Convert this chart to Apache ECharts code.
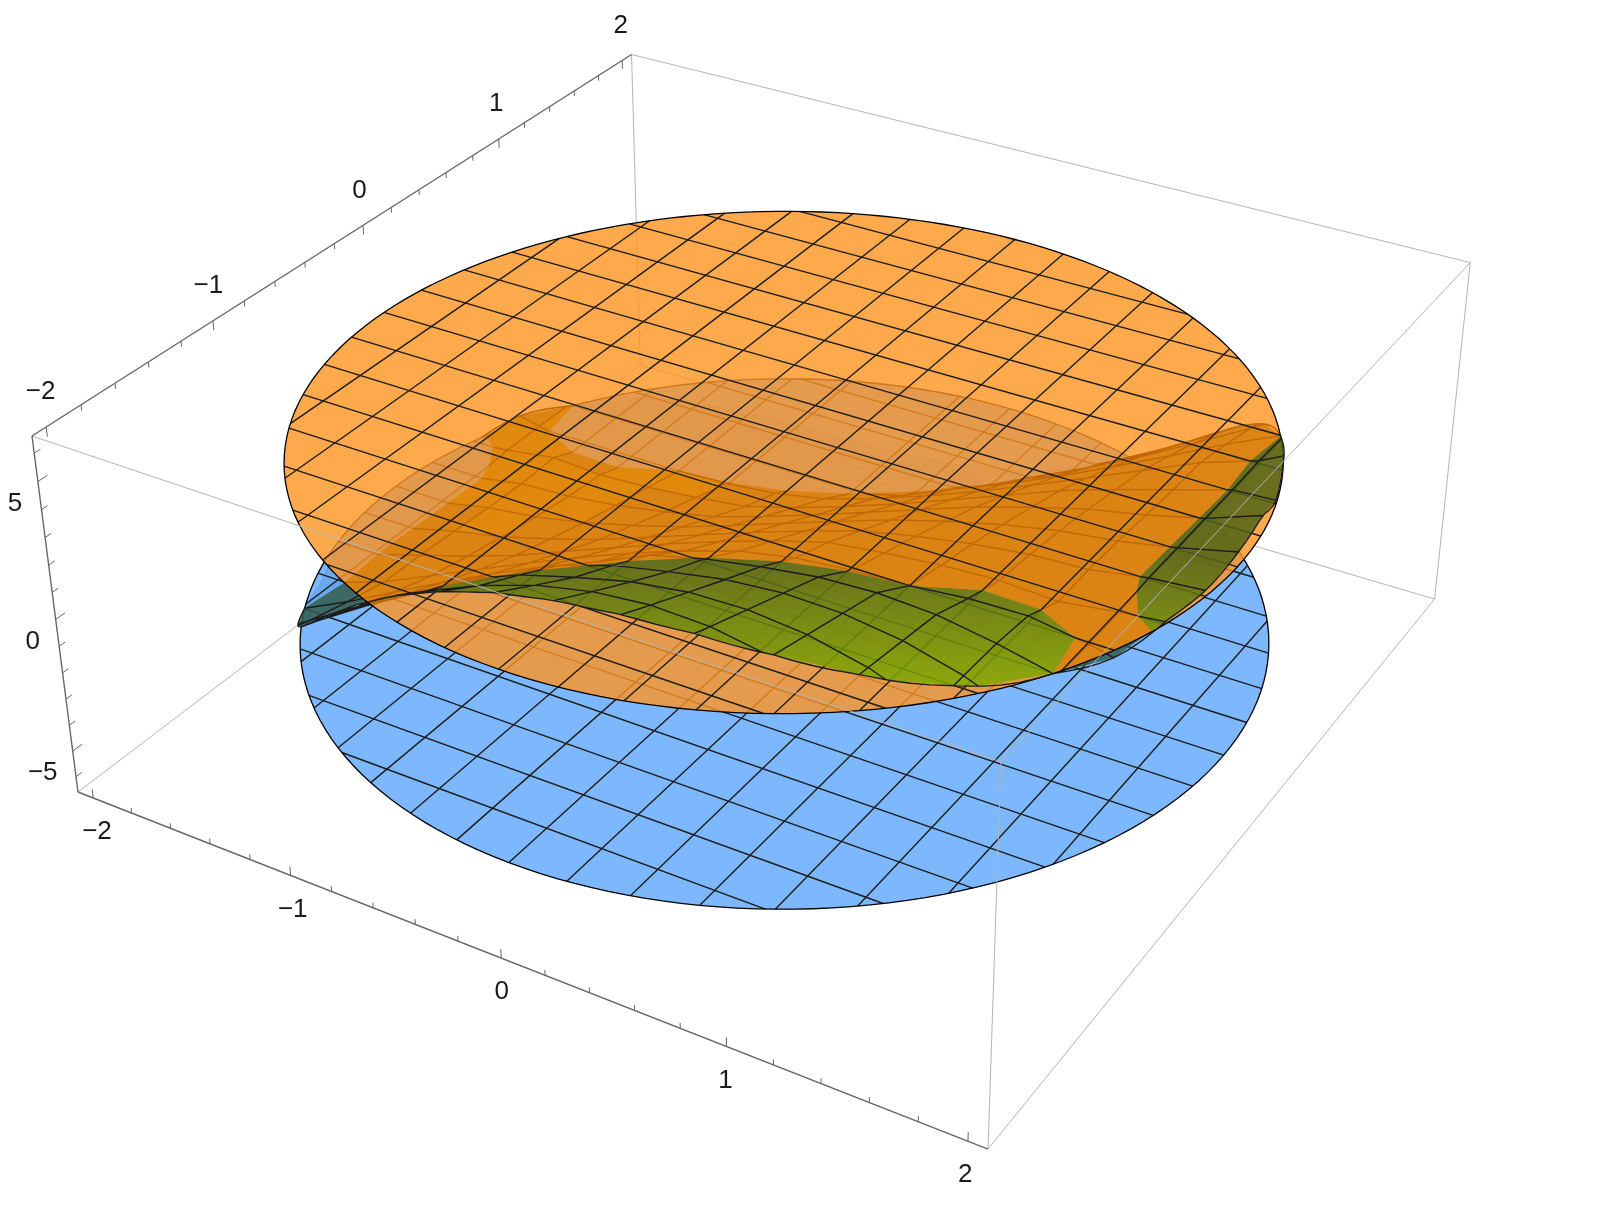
<!DOCTYPE html>
<html>
<head>
<meta charset="utf-8">
<title>Surface between two level discs</title>
<style>
  html, body { margin: 0; background: #fff; }
  #chart { width: 1600px; height: 1220px; }
</style>
<script src="https://cdn.jsdelivr.net/npm/echarts@6/dist/echarts.min.js"></script>
</head>
<body>
<div id="chart"></div>
<script>
const xTicks = [-2, -1, 0, 1, 2];
const yTicks = [-2, -1, 0, 1, 2];
const zTicks = [-5, 0, 5];
const planeLow = -3.45;
const planeHigh = 3.45;
const discRadius = 2;
const gridStart = -2;
const gridStep = 0.25;
// rows run along y from -2 to 2, columns along x from -2 to 2
const surfaceZ = [
  [-4.16,-2.36,-.67,.89,2.30,3.54,4.60,5.44,6.06,6.43,6.53,6.35,5.86,5.05,3.89,2.37,.47],
  [-4.41,-2.79,-1.25,.19,1.51,2.69,3.72,4.56,5.22,5.65,5.85,5.79,5.46,4.84,3.90,2.62,1.00],
  [-4.56,-3.13,-1.76,-.44,.78,1.90,3.05,3.85,4.41,4.90,5.19,5.25,5.07,4.63,3.90,2.87,1.52],
  [-4.64,-3.41,-2.19,-1.02,.11,1.15,2.10,3.10,3.75,4.17,4.54,4.72,4.68,4.41,3.89,3.10,2.01],
  [-4.64,-3.50,-2.57,-1.53,-.52,.45,1.35,2.16,3.05,3.55,3.91,4.19,4.29,4.19,3.86,3.42,2.48],
  [-4.57,-3.55,-2.88,-1.99,-1.10,-.22,.63,1.42,2.14,2.76,3.15,3.35,3.45,3.65,3.70,3.38,2.92],
  [-3.60,-3.50,-2.90,-2.30,-1.64,-.85,-.07,.70,1.42,2.08,2.65,2.90,3.10,3.20,3.10,3.38,3.60],
  [-4.23,-3.50,-3.00,-2.60,-2.05,-1.45,-.73,-.01,.71,1.39,2.02,2.45,2.80,3.05,3.15,3.50,3.67],
  [-3.98,-3.50,-3.10,-2.85,-2.45,-1.95,-1.38,-.70,0,.70,1.38,1.95,2.45,2.85,3.10,3.50,3.98],
  [-3.67,-3.50,-3.15,-3.05,-2.80,-2.45,-2.02,-1.39,-.71,.01,.73,1.45,2.05,2.60,3.00,3.50,4.23],
  [-3.60,-3.38,-3.10,-3.20,-3.10,-2.90,-2.65,-2.08,-1.42,-.70,.07,.85,1.64,2.30,2.90,3.50,3.60],
  [-2.92,-3.38,-3.70,-3.65,-3.45,-3.35,-3.15,-2.76,-2.14,-1.42,-.63,.22,1.10,1.99,2.88,3.55,4.57],
  [-2.48,-3.42,-3.86,-4.19,-4.29,-4.19,-3.91,-3.55,-3.05,-2.16,-1.35,-.45,.52,1.53,2.57,3.50,4.64],
  [-2.01,-3.10,-3.89,-4.41,-4.68,-4.72,-4.54,-4.17,-3.75,-3.10,-2.10,-1.15,-.11,1.02,2.19,3.41,4.64],
  [-1.52,-2.87,-3.90,-4.63,-5.07,-5.25,-5.19,-4.90,-4.41,-3.85,-3.05,-1.90,-.78,.44,1.76,3.13,4.56],
  [-1.00,-2.62,-3.90,-4.84,-5.46,-5.79,-5.85,-5.65,-5.22,-4.56,-3.72,-2.69,-1.51,-.19,1.25,2.79,4.41],
  [-.47,-2.37,-3.89,-5.05,-5.86,-6.35,-6.53,-6.43,-6.06,-5.44,-4.60,-3.54,-2.30,-.89,.67,2.36,4.16]
];

// box half sizes and the camera, fitted to the box corners
const boxXY = 2.08;
const boxZ = 6.6;
const camera = [
  [78, 781.2, 702.5, -47.9],
  [792, 207.2, -347.1, -381.7],
  [1, -0.1304, 0.219, -0.059]
];

function project(p) {
  const u = (p[0] + boxXY) / (2 * boxXY);
  const v = (p[1] + boxXY) / (2 * boxXY);
  const w = (p[2] + boxZ) / (2 * boxZ);
  const r = camera.map(c => c[0] + c[1] * u + c[2] * v + c[3] * w);
  return [r[0] / r[2], r[1] / r[2]];
}

function lerp(a, b, t) {
  return [a[0] + (b[0] - a[0]) * t, a[1] + (b[1] - a[1]) * t, a[2] + (b[2] - a[2]) * t];
}

function crossing(a, b, f) {
  let lo = 0, hi = 1;
  const inA = f(a) >= 0;
  for (let i = 0; i < 14; i++) {
    const t = (lo + hi) / 2;
    if ((f(lerp(a, b, t)) >= 0) === inA) lo = t; else hi = t;
  }
  return lerp(a, b, (lo + hi) / 2);
}

function clipPolygon(pts, f) {
  const out = [];
  pts.forEach((a, i) => {
    const b = pts[(i + 1) % pts.length];
    const ia = f(a) >= 0, ib = f(b) >= 0;
    if (ia) out.push(a);
    if (ia !== ib) out.push(crossing(a, b, f));
  });
  return out;
}

function clipSegment(seg, f) {
  const ia = f(seg[0]) >= 0, ib = f(seg[1]) >= 0;
  if (ia && ib) return seg;
  if (!ia && !ib) return null;
  const c = crossing(seg[0], seg[1], f);
  return ia ? [seg[0], c] : [c, seg[1]];
}

const inDisc = p => discRadius - Math.hypot(p[0], p[1]);
const layerClips = [
  [p => planeLow - p[2]],
  [p => p[2] - planeLow, p => planeHigh - p[2]],
  [p => p[2] - planeHigh]
];

function gridPoint(row, col) {
  return [gridStart + col * gridStep, gridStart + row * gridStep, surfaceZ[row][col]];
}

function surfaceAt(x, y) {
  const c = Math.min(15, Math.max(0, Math.floor((x - gridStart) / gridStep)));
  const r = Math.min(15, Math.max(0, Math.floor((y - gridStart) / gridStep)));
  const s = (x - gridStart) / gridStep - c, t = (y - gridStart) / gridStep - r;
  return (1 - t) * ((1 - s) * surfaceZ[r][c] + s * surfaceZ[r][c + 1]) +
    t * ((1 - s) * surfaceZ[r + 1][c] + s * surfaceZ[r + 1][c + 1]);
}

// surface cells, split by disc edge and by the two planes
const facets = [[], [], []];
const flatFacets = [];
const meshPieces = [[], [], []];

function addToLayers(seg) {
  layerClips.forEach((clips, layer) => {
    let s = seg;
    clips.forEach(f => { if (s) s = clipSegment(s, f); });
    if (s) meshPieces[layer].push(s);
  });
}

for (let r = 0; r < 16; r++) {
  for (let c = 0; c < 16; c++) {
    const cell = clipPolygon([gridPoint(r, c), gridPoint(r, c + 1), gridPoint(r + 1, c + 1), gridPoint(r + 1, c)], inDisc);
    if (cell.length < 3) continue;
    const fx = (surfaceZ[r][c + 1] + surfaceZ[r + 1][c + 1] - surfaceZ[r][c] - surfaceZ[r + 1][c]) / (2 * gridStep);
    const fy = (surfaceZ[r + 1][c] + surfaceZ[r + 1][c + 1] - surfaceZ[r][c] - surfaceZ[r][c + 1]) / (2 * gridStep);
    const nz = 1 / Math.hypot(fx, fy, 1);
    layerClips.forEach((clips, layer) => {
      let poly = cell;
      clips.forEach(f => { if (poly.length) poly = clipPolygon(poly, f); });
      if (poly.length < 3) return;
      facets[layer].push(poly);
      // flatter cells at the back left catch more light under the top disc
      if (layer === 1 && nz > 0.5 && c < 8) flatFacets.push(poly);
    });
  }
}
for (let i = 1; i < 16; i++) {
  for (let j = 0; j < 16; j++) {
    [[gridPoint(i, j), gridPoint(i, j + 1)], [gridPoint(j, i), gridPoint(j + 1, i)]].forEach(seg => {
      const inside = clipSegment(seg, inDisc);
      if (inside) addToLayers(inside);
    });
  }
}
for (let a = 0; a < 360; a += 2) {
  const p = [discRadius * Math.cos(a * Math.PI / 180), discRadius * Math.sin(a * Math.PI / 180)];
  const q = [discRadius * Math.cos((a + 2) * Math.PI / 180), discRadius * Math.sin((a + 2) * Math.PI / 180)];
  addToLayers([[p[0], p[1], surfaceAt(p[0], p[1])], [q[0], q[1], surfaceAt(q[0], q[1])]]);
}

function pathOf(api, list, close) {
  let d = '';
  list.forEach(pts => {
    pts.forEach((p, i) => {
      const c = api.coord(project(p));
      d += (i ? 'L' : 'M') + c[0].toFixed(2) + ' ' + c[1].toFixed(2) + ' ';
    });
    if (close) d += 'Z ';
  });
  return d;
}

function fillPath(api, list, color) {
  return { type: 'path', silent: true, shape: { pathData: pathOf(api, list, true) }, style: { fill: color, stroke: null } };
}

function linePath(api, list, color, width) {
  return { type: 'path', silent: true, shape: { pathData: pathOf(api, list, false) }, style: { fill: null, stroke: color, lineWidth: width } };
}

function discRim(z) {
  const rim = [];
  for (let a = 0; a < 360; a += 2) {
    rim.push([discRadius * Math.cos(a * Math.PI / 180), discRadius * Math.sin(a * Math.PI / 180), z]);
  }
  return rim;
}

function discLines(api, z) {
  const rim = discRim(z);
  const chords = [];
  for (let i = -7; i <= 7; i++) {
    const g = i * gridStep;
    const h = Math.sqrt(discRadius * discRadius - g * g);
    chords.push([[g, -h, z], [g, h, z]]);
    chords.push([[-h, g, z], [h, g, z]]);
  }
  return [
    linePath(api, chords, '#1c1c1c', 1.4),
    linePath(api, [rim.concat([rim[0]])], '#000', 1.3)
  ];
}

function surfaceUnder(api, layer) {
  return [
    fillPath(api, facets[layer], 'rgba(48,91,73,0.85)'),
    linePath(api, meshPieces[layer], '#1c1c1c', 1.4)
  ];
}

// the stretch of surface seen through the top disc, kept inside that disc
function underTopDisc(api) {
  const rimPoints = discRim(planeHigh).map(p => api.coord(project(p)));
  return {
    type: 'group',
    clipPath: { type: 'polygon', shape: { points: rimPoints } },
    children: [
      fillPath(api, facets[1], 'rgba(222,128,0,0.55)'),
      fillPath(api, flatFacets, 'rgba(235,150,0,0.3)'),
      linePath(api, meshPieces[1], 'rgba(178,88,0,0.6)', 1.3)
    ]
  };
}

function surfaceOver(api) {
  const shade = {
    type: 'linear', x: 0, y: 555, x2: 0, y2: 695, global: true,
    colorStops: [
      { offset: 0, color: 'rgba(78,100,22,0.85)' },
      { offset: 1, color: 'rgba(130,175,0,0.85)' }
    ]
  };
  return [
    fillPath(api, facets[2], shade),
    linePath(api, meshPieces[2], '#1c1c1c', 1.4)
  ];
}

const H = boxXY, Z = boxZ;
const backEdges = [
  [[-H, H, -Z], [-H, H, Z]],
  [[-H, H, -Z], [H, H, -Z]],
  [[-H, H, -Z], [-H, -H, -Z]],
  [[H, H, -Z], [H, -H, -Z]],
  [[H, H, -Z], [H, H, Z]]
];
const frontEdges = [
  [[-H, -H, Z], [H, -H, Z]],
  [[-H, H, Z], [H, H, Z]],
  [[H, H, Z], [H, -H, Z]],
  [[H, -H, -Z], [H, -H, Z]]
];
const axisEdges = [
  [[-H, -H, -Z], [H, -H, -Z]],
  [[-H, -H, Z], [-H, H, Z]],
  [[-H, -H, -Z], [-H, -H, Z]]
];

function axisMarks(api) {
  const out = [];
  const ticks = [];
  for (let i = -10; i <= 10; i++) {
    const v = i * 0.2;
    const major = i % 5 === 0;
    ticks.push([[v, -H, -Z], [v, -H, -Z + (major ? 0.34 : 0.2)]]);
    ticks.push([[-H, v, Z], [-H, v, Z - (major ? 0.34 : 0.2)]]);
  }
  for (let i = -6; i <= 6; i++) {
    ticks.push([[-H, -H, i], [-H, -H + (i % 5 === 0 ? 0.055 : 0.035), i]]);
  }
  out.push(linePath(api, axisEdges, '#666', 1.4));
  out.push(linePath(api, ticks, '#666', 1));
  const label = (p, dx, dy, value) => {
    const c = api.coord(project(p));
    out.push({
      type: 'text', silent: true,
      style: {
        x: c[0] + dx, y: c[1] + dy, text: String(value).replace('-', '\u2212'),
        fill: '#1a1a1a', font: '26px "Liberation Sans"', align: 'center', verticalAlign: 'middle'
      }
    });
  };
  xTicks.forEach(v => label([v, -H, -Z], 0.5 - 1.6 * v, 34, v));
  yTicks.forEach(v => label([-H, v, Z], v - 3.5, -35, v));
  zTicks.forEach(v => label([-H, -H, v], v < 0 ? -30 : -23, 22, v));
  return out;
}

function renderScene(params, api) {
  const children = [].concat(
    linePath(api, backEdges, '#b4b4b4', 1),
    surfaceUnder(api, 0),
    fillPath(api, [discRim(planeLow)], 'rgba(111,176,255,0.9)'),
    discLines(api, planeLow),
    surfaceUnder(api, 1),
    fillPath(api, [discRim(planeHigh)], 'rgba(255,148,32,0.8)'),
    underTopDisc(api),
    discLines(api, planeHigh),
    surfaceOver(api),
    linePath(api, frontEdges, '#b4b4b4', 1),
    axisMarks(api)
  );
  return { type: 'group', children: children };
}

const chart = echarts.init(document.getElementById('chart'), null, { renderer: 'canvas' });
chart.setOption({
  animation: false,
  backgroundColor: '#fff',
  grid: { left: 0, right: 0, top: 0, bottom: 0 },
  xAxis: { type: 'value', min: 0, max: 1600, show: false },
  yAxis: { type: 'value', min: 0, max: 1220, inverse: true, show: false },
  series: [{
    type: 'custom',
    coordinateSystem: 'cartesian2d',
    clip: false,
    silent: true,
    renderItem: renderScene,
    data: [[0, 0]]
  }]
});
</script>
</body>
</html>
